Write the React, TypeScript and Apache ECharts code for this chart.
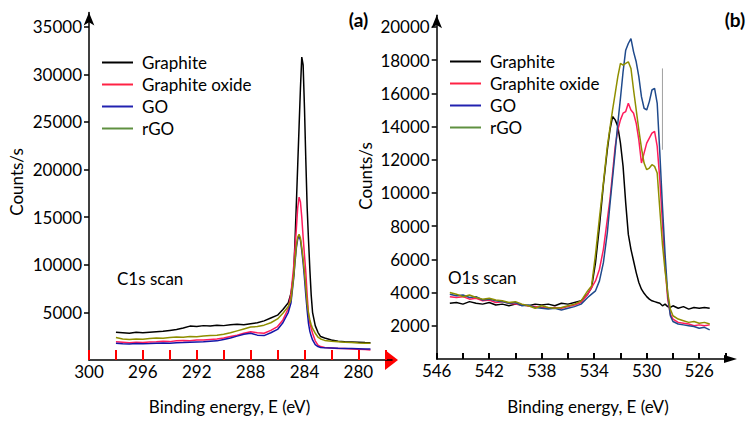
import React, { useEffect, useRef } from 'react';
import * as echarts from 'echarts';

// ---- C1s panel (a) ----
const c1sEnergy = [
  298, 297.5, 297, 296.5, 296, 295.5, 295, 294.5, 294, 293.5, 293, 292.5, 292, 291.5, 291, 290.5, 290, 289.5, 289,
  288.5, 288, 287.5, 287, 286.5, 286, 285.6, 285.2, 285, 284.8, 284.7, 284.6, 284.5, 284.4, 284.3, 284.2, 284.1, 284,
  283.9, 283.8, 283.7, 283.6, 283.5, 283.4, 283.2, 283, 282.8, 282.5, 282, 281.5, 281, 280.5, 280, 279.5, 279.1,
];
const c1sGraphite = [
  2900, 2850, 2800, 2900, 2850, 2900, 2950, 3000, 3100, 3200, 3350, 3550, 3500, 3600, 3550, 3650, 3600, 3700, 3750,
  3700, 3800, 3900, 4100, 4400, 4700, 5300, 6000, 7000, 9000, 12600, 16500, 20500, 24500, 28500, 31800, 31000, 26500,
  21000, 16000, 12600, 9500, 6800, 5000, 3600, 2900, 2450, 2300, 2100, 1950, 1900, 1880, 1850, 1820, 1800,
];
const c1sGraphiteOxide = [
  1900, 1850, 1800, 1850, 1820, 1880, 1900, 1950, 1920, 2000, 2050, 2000, 2100, 2080, 2150, 2200, 2300, 2450, 2600,
  2800, 2950, 2850, 2800, 3100, 3500, 4200, 5400, 7000, 9800, 11800, 13800, 16000, 17100, 16600, 15000, 12900, 11000,
  9200, 6800, 4800, 3900, 3300, 2800, 2000, 1550, 1400, 1300, 1250, 1200, 1200, 1150, 1120, 1100, 1050,
];
const c1sGO = [
  1750, 1700, 1680, 1720, 1700, 1720, 1750, 1780, 1750, 1800, 1820, 1850, 1880, 1900, 1950, 2000, 2150, 2300, 2500,
  2700, 2800, 2600, 2550, 2850, 3200, 3900, 5000, 6000, 8600, 10300, 11800, 12700, 13000, 12600, 11500, 10200, 8600,
  6800, 5200, 3800, 3000, 2500, 2100, 1600, 1400, 1300, 1280, 1250, 1220, 1200, 1200, 1180, 1150, 1150,
];
const c1sRGO = [
  2350, 2200, 2150, 2200, 2180, 2250, 2300, 2280, 2350, 2400, 2380, 2450, 2420, 2500, 2550, 2600, 2700, 2850, 3050,
  3250, 3450, 3500, 3650, 3900, 4300, 4900, 5600, 6300, 8800, 10500, 12000, 12900, 13200, 12800, 11800, 10600, 9200,
  7600, 5900, 4900, 4200, 3700, 3300, 2800, 2400, 2200, 2050, 1950, 1900, 1850, 1820, 1780, 1750, 1750,
];

// ---- O1s panel (b) ----
const o1sEnergy = [
  545, 544.5, 544, 543.5, 543, 542.5, 542, 541.5, 541, 540.5, 540, 539.5, 539, 538.5, 538, 537.5, 537, 536.5, 536,
  535.5, 535, 534.5, 534.2, 533.9, 533.6, 533.3, 533, 532.8, 532.6, 532.4, 532.2, 532, 531.8, 531.6, 531.4, 531.2,
  531, 530.8, 530.6, 530.4, 530.2, 530, 529.8, 529.6, 529.4, 529.2, 529, 528.8, 528.6, 528.4, 528.2, 528, 527.6,
  527.2, 526.8, 526.4, 526, 525.6, 525.2,
];
const o1sGraphite = [
  3350, 3400, 3300, 3450, 3350, 3300, 3400, 3250, 3300, 3200, 3300, 3250, 3200, 3300, 3250, 3300, 3200, 3350, 3300,
  3400, 3500, 3900, 4300, 5800, 8000, 10500, 12600, 13800, 14600, 14400, 14000, 13000, 11600, 9400, 7500, 6600,
  5900, 5200, 4600, 4200, 3950, 3750, 3600, 3500, 3450, 3400, 3350, 3200, 3300, 3150, 3100, 3200, 3050,
  3150, 3000, 3100, 3050, 3100, 3050,
];
const o1sGraphiteOxide = [
  3750, 3700, 3750, 3600, 3650, 3500, 3550, 3400, 3450, 3350, 3300, 3250, 3200, 3150, 3100, 3050, 3100, 3050, 3150,
  3250, 3400, 3900, 4300, 4700, 5400, 6600, 8400, 9600, 11200, 12800, 13800, 14400, 14800, 14900, 15400, 15000,
  14800, 14200, 13200, 11800, 12400, 13000, 13300, 13600, 13700, 12800, 10800, 8200, 5600, 3600, 2700, 2400, 2200,
  2150, 2100, 2000, 2050, 2000, 2050,
];
const o1sGO = [
  3900, 3800, 3850, 3700, 3750, 3550, 3600, 3500, 3450, 3350, 3400, 3200, 3250, 3100, 3050, 3000, 3050, 2950, 3050,
  3150, 3300, 3700, 3900, 4100, 4700, 5800, 7600, 9300, 10900, 12500, 14200, 15700, 17300, 18600, 19000, 19300,
  18500, 17900, 17000, 15800, 15100, 15000, 15500, 16200, 16300, 15400, 12400, 9200, 6300, 3900, 2600, 2250, 2100,
  2050, 2000, 1950, 1850, 1900, 1750,
];
const o1sRGO = [
  4000, 3900, 3750, 3850, 3700, 3600, 3650, 3550, 3500, 3400, 3450, 3300, 3200, 3050, 3200, 3100, 3050, 3100, 3200,
  3300, 3500, 4100, 4400, 6300, 8500, 10600, 12800, 13900, 15000, 16000, 17000, 17800, 17700, 17800, 17900, 17500,
  16200, 15000, 13800, 12700, 11800, 11400, 11500, 11700, 11600, 11200, 9000, 6900, 5300, 4000, 3000, 2600, 2400,
  2300, 2200, 2250, 2150, 2200, 2100,
];
// thin grey marker in panel (b)
const o1sMarkerX = [528.8, 528.8];
const o1sMarkerY = [12600, 17500];

// ---- tick labels ----
const c1sXTicks = [278, 280, 282, 284, 286, 288, 290, 292, 294, 296, 298, 300];
const c1sXLabels = [280, 284, 288, 292, 296, 300];
const c1sYLabels = [5000, 10000, 15000, 20000, 25000, 30000, 35000];
const o1sXTicks = [524, 526, 528, 530, 532, 534, 536, 538, 540, 542, 544, 546];
const o1sXLabels = [526, 530, 534, 538, 542, 546];
const o1sYLabels = [2000, 4000, 6000, 8000, 10000, 12000, 14000, 16000, 18000, 20000];

const seriesNames = ['Graphite', 'Graphite oxide', 'GO', 'rGO'];
const legendColors = ['#000000', '#ff2244', '#2222b0', '#5f9040'];
const leftColors = ['#000000', '#ff1c5c', '#1414a8', '#8f8f00'];
const rightColors = ['#000000', '#ff1c5c', '#1f4a8c', '#8f8f00'];

const FONT = 'Lato';
const FS = 17;

const gridA = { left: 89, top: 12.4, width: 303, height: 347.5 };
const gridB = { left: 436.7, top: 15.3, width: 294, height: 343.6 };

const xAxisFor = (gridIndex: number, min: number, max: number, ticks: number[], labels: number[], tickColor: string, tickLen: number) => ({
  type: 'value' as const,
  gridIndex,
  min,
  max,
  inverse: true,
  axisLine: { show: true, lineStyle: { color: '#000', width: 1.5 } },
  axisTick: { show: true, inside: true, length: tickLen, customValues: ticks, lineStyle: { color: tickColor, width: 2 } },
  axisLabel: { customValues: labels, color: '#000', fontSize: FS, fontFamily: FONT, margin: 3 },
  splitLine: { show: false },
});

const yAxisFor = (gridIndex: number, max: number, labels: number[]) => ({
  type: 'value' as const,
  gridIndex,
  min: 0,
  max,
  axisLine: {
    show: true,
    symbol: ['none', 'arrow'],
    symbolSize: [8, 13],
    lineStyle: { color: '#000', width: 1.5 },
  },
  axisTick: { show: true, length: 5, customValues: labels, lineStyle: { color: '#000', width: 1.5 } },
  axisLabel: {
    customValues: labels,
    formatter: (v: number) => String(v),
    color: '#000',
    fontSize: FS,
    fontFamily: FONT,
    margin: 7,
  },
  splitLine: { show: false },
});

const legendFor = (left: number, top: number) => ({
  left,
  top,
  padding: 0,
  orient: 'vertical' as const,
  itemWidth: 31,
  itemHeight: 14,
  itemGap: 5,
  selectedMode: false,
  textStyle: { color: '#000', fontSize: FS, fontFamily: FONT, padding: [0, 0, 0, 4] },
  data: seriesNames.map((name, i) => ({
    name,
    icon: 'path://M0,0H31V2H0Z',
    itemStyle: { color: legendColors[i] },
  })),
});

const App: React.FC = () => {
  const chartRef = useRef<HTMLDivElement>(null);

  useEffect(() => {
    if (!chartRef.current) return;
    document.body.style.margin = '0';
    const chart = echarts.init(chartRef.current, undefined, { renderer: 'svg' });

    const c1sSets = [c1sGraphite, c1sGraphiteOxide, c1sGO, c1sRGO];
    const o1sSets = [o1sGraphite, o1sGraphiteOxide, o1sGO, o1sRGO];

    const lineSeries = (xIndex: number, energy: number[], values: number[], name: string, color: string) => ({
      type: 'line' as const,
      name,
      xAxisIndex: xIndex,
      yAxisIndex: xIndex,
      data: energy.map((e, i) => [e, values[i]]),
      symbol: 'none',
      lineStyle: { color, width: 1.5 },
      itemStyle: { color },
    });

    const label = (x: number, y: number, text: string, align: string, opts: { bold?: boolean; size?: number; rotate?: boolean } = {}) => ({
      type: 'text' as const,
      x,
      y,
      rotation: opts.rotate ? Math.PI / 2 : 0,
      style: {
        text,
        fill: '#000',
        font: `${opts.bold ? 'bold ' : ''}${opts.size ?? FS}px ${FONT}`,
        textAlign: align,
        textVerticalAlign: 'middle',
      },
    });

    const option = {
      animation: false,
      grid: [gridA, gridB],
      xAxis: [
        xAxisFor(0, 277.5, 300, c1sXTicks, c1sXLabels, '#f00', 10),
        xAxisFor(1, 523.6, 546, o1sXTicks, o1sXLabels, '#000', 6),
      ],
      yAxis: [yAxisFor(0, 36500, c1sYLabels), yAxisFor(1, 20700, o1sYLabels)],
      legend: [legendFor(102, 54), legendFor(450, 53)],
      graphic: [
        { type: 'polygon', shape: { points: [[398, 360], [385, 350], [385, 370]] }, style: { fill: '#f00' } },
        { type: 'polygon', shape: { points: [[737, 359], [724, 355], [724, 363]] }, style: { fill: '#000' } },
        label(16, 182, 'Counts/s', 'center', { rotate: true }),
        label(365, 176, 'Counts/s', 'center', { rotate: true }),
        label(229.5, 406, 'Binding energy, E (eV)', 'center'),
        label(588, 406, 'Binding energy, E (eV)', 'center'),
        label(117, 278, 'C1s scan', 'left'),
        label(448, 277, 'O1s scan', 'left'),
        label(358.5, 19, '(a)', 'center', { bold: true, size: 19 }),
        label(735, 19, '(b)', 'center', { bold: true, size: 19 }),
      ],
      series: [
        ...seriesNames.map((name, i) => lineSeries(0, c1sEnergy, c1sSets[i], name, leftColors[i])),
        ...seriesNames.map((name, i) => lineSeries(1, o1sEnergy, o1sSets[i], name, rightColors[i])),
        {
          type: 'line',
          name: 'marker',
          xAxisIndex: 1,
          yAxisIndex: 1,
          data: o1sMarkerX.map((x, i) => [x, o1sMarkerY[i]]),
          symbol: 'none',
          lineStyle: { color: '#a0a0a0', width: 1 },
        },
      ],
    };

    chart.setOption(option as echarts.EChartsOption);
    return () => chart.dispose();
  }, []);

  return <div ref={chartRef} style={{ width: 749, height: 423 }} />;
};

export default App;
